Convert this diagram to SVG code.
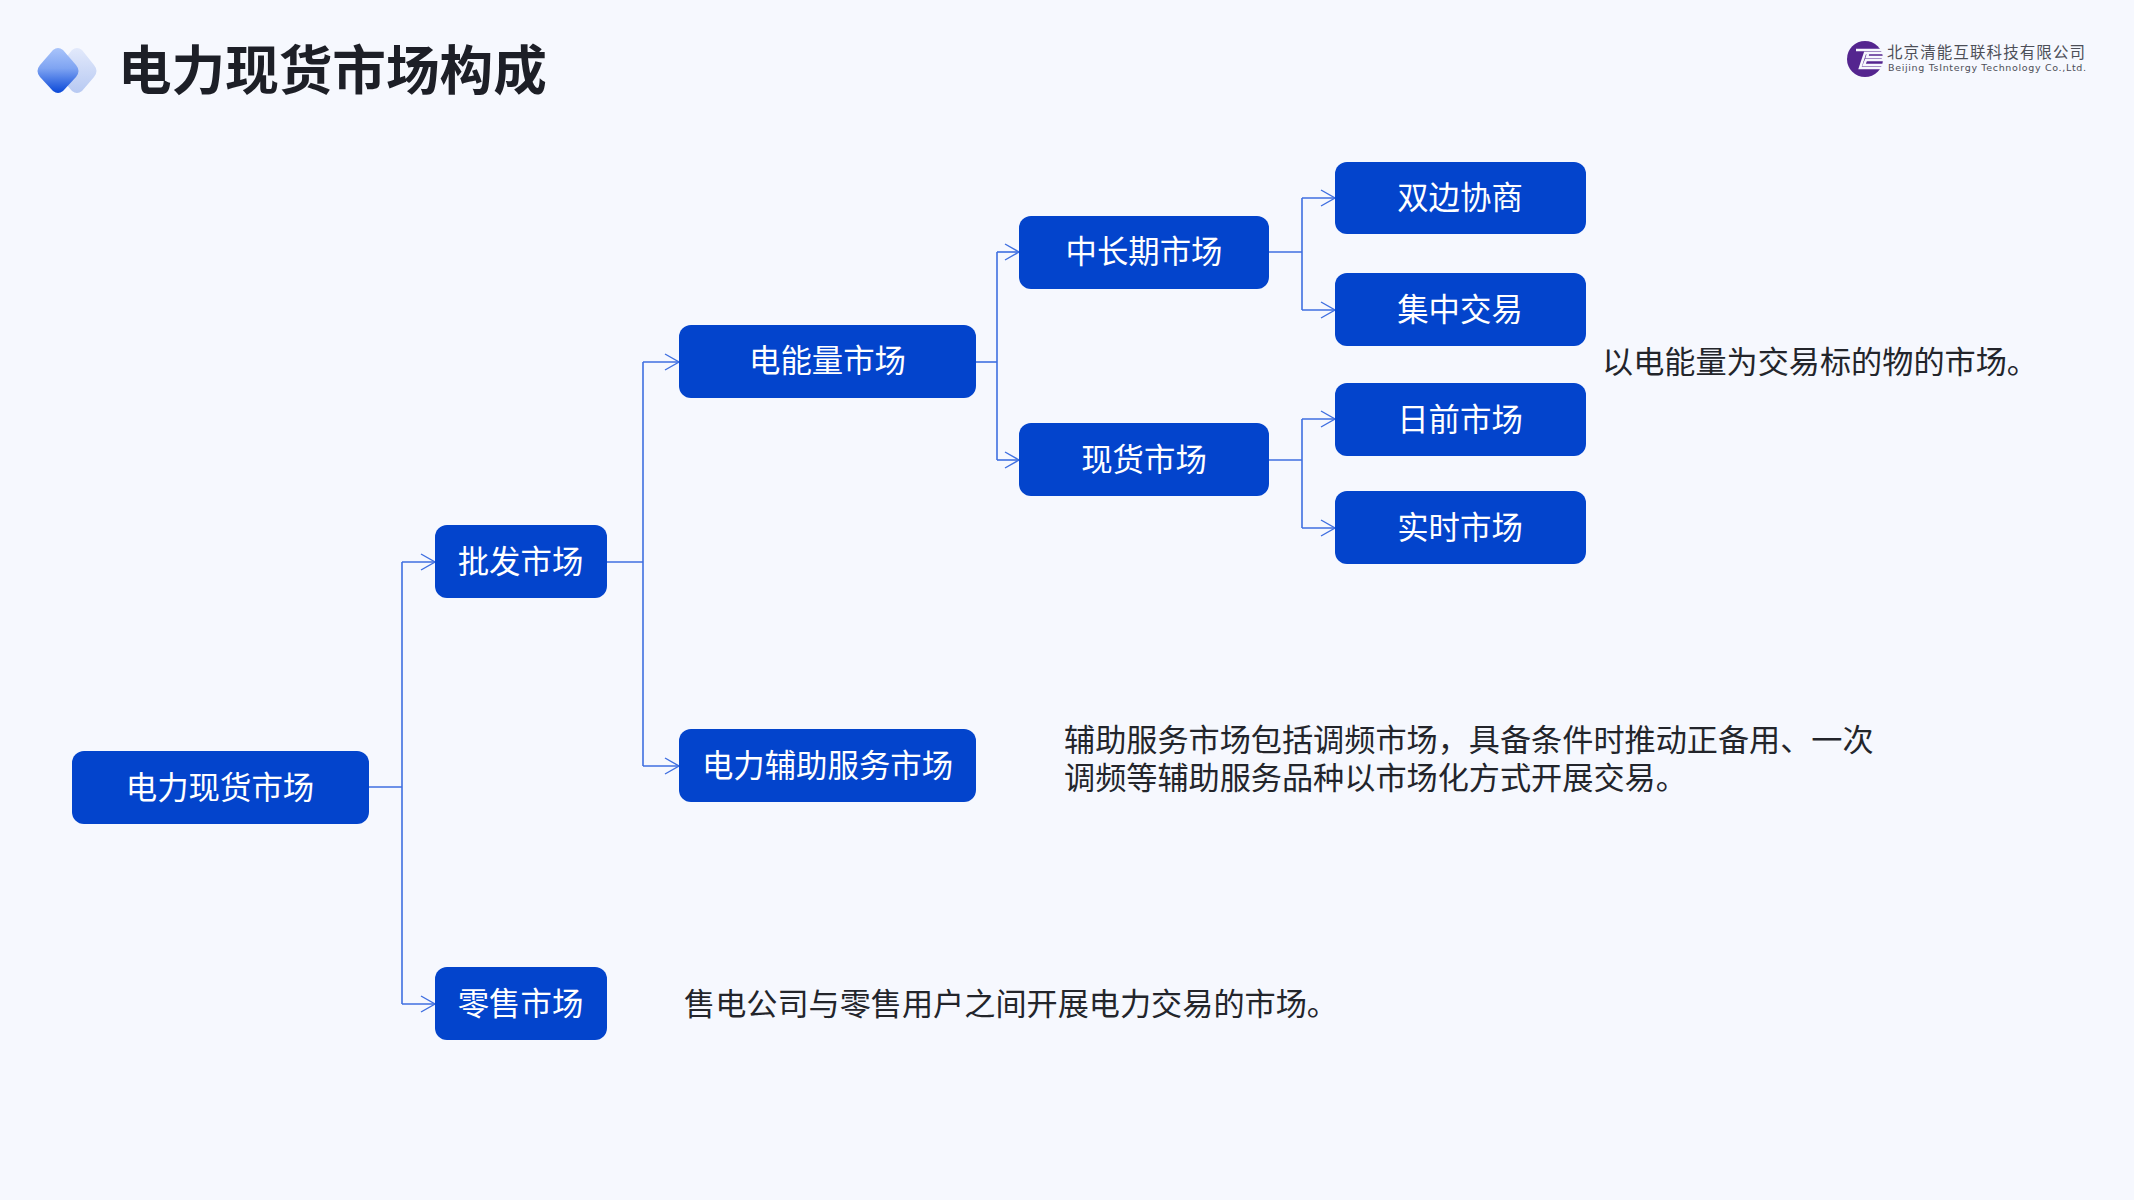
<svg xmlns="http://www.w3.org/2000/svg" width="2134" height="1200" viewBox="0 0 2134 1200">
<style>
text{font-family:"Noto Sans CJK SC","Noto Sans",sans-serif}
.n{fill:#0344cc}
.nt{fill:#fff;font-size:31.400px;text-anchor:middle;dominant-baseline:central}
.d{fill:#23252b;font-size:31.150px}
.c{fill:none;stroke:#3f6fe0;stroke-width:1.6}
.a{fill:none;stroke:#3f6fe0;stroke-width:1.4}
</style>
<defs>
<linearGradient id="g1" x1="0" y1="0" x2="0" y2="1"><stop offset="0" stop-color="#a9c4fa"/><stop offset="0.45" stop-color="#7fa4f2"/><stop offset="1" stop-color="#0a48d8"/></linearGradient>
<linearGradient id="g2" x1="0" y1="0" x2="0" y2="1"><stop offset="0" stop-color="#e2e9fb"/><stop offset="1" stop-color="#b7c9f2"/></linearGradient>
<marker id="ah" markerUnits="userSpaceOnUse" viewBox="0 0 16 18" refX="15" refY="9" markerWidth="16" markerHeight="18" orient="auto"><path class="a" d="M1 1L15 9L1 17"/></marker>
</defs>
<rect width="2134" height="1200" fill="#f6f8fe"/>
<g id="title">
<path d="M72 50Q77 46 82 50L94 65Q99 71 94 77L82 91Q77 95 72 91L60 77Q55 71 60 65Z" fill="url(#g2)"/>
<path d="M53 50Q58 46 63 50L76 65Q81 71 76 77L63 91Q58 95 53 91L40 77Q35 71 40 65Z" fill="url(#g1)"/>
<text x="118" y="90" font-size="53.600" font-weight="700" fill="#1d1f27">电力现货市场构成</text>
</g>
<g id="logo">
<circle cx="1865" cy="59" r="18" fill="#54258f"/>
<path d="M1856 50H1883V53H1865L1860 68H1883V65H1864L1866 60H1883V57H1867L1868 54" fill="none" stroke="#f6f8fe" stroke-width="2.500"/>
<text x="1887" y="58" font-size="15.500" fill="#4d4f58" textLength="198" lengthAdjust="spacing">北京清能互联科技有限公司</text>
<text x="1888" y="71" font-size="9.500" fill="#4d4f58" textLength="198" lengthAdjust="spacing" style="font-family:'DejaVu Sans',sans-serif">Beijing TsIntergy Technology Co.,Ltd.</text>
</g>
<g id="connectors">
<path class="c" d="M369 787H402"/>
<path class="c" d="M402 562V1004"/>
<path class="c" marker-end="url(#ah)" d="M402 562H435"/>
<path class="c" marker-end="url(#ah)" d="M402 1004H435"/>
<path class="c" d="M607 562H643"/>
<path class="c" d="M643 362V766"/>
<path class="c" marker-end="url(#ah)" d="M643 362H679"/>
<path class="c" marker-end="url(#ah)" d="M643 766H679"/>
<path class="c" d="M976 362H997"/>
<path class="c" d="M997 252V460"/>
<path class="c" marker-end="url(#ah)" d="M997 252H1019"/>
<path class="c" marker-end="url(#ah)" d="M997 460H1019"/>
<path class="c" d="M1269 252H1302"/>
<path class="c" d="M1302 198V310"/>
<path class="c" marker-end="url(#ah)" d="M1302 198H1335"/>
<path class="c" marker-end="url(#ah)" d="M1302 310H1335"/>
<path class="c" d="M1269 460H1302"/>
<path class="c" d="M1302 419V528"/>
<path class="c" marker-end="url(#ah)" d="M1302 419H1335"/>
<path class="c" marker-end="url(#ah)" d="M1302 528H1335"/>
</g>
<g id="n1"><rect class="n" x="72" y="751" width="297" height="73" rx="12"/><text class="nt" x="220" y="785">电力现货市场</text></g>
<g id="n2"><rect class="n" x="435" y="525" width="172" height="73" rx="12"/><text class="nt" x="520.500" y="559">批发市场</text></g>
<g id="n3"><rect class="n" x="435" y="967" width="172" height="73" rx="12"/><text class="nt" x="520.500" y="1001">零售市场</text></g>
<g id="n4"><rect class="n" x="679" y="325" width="297" height="73" rx="12"/><text class="nt" x="827.500" y="358">电能量市场</text></g>
<g id="n5"><rect class="n" x="679" y="729" width="297" height="73" rx="12"/><text class="nt" x="827.500" y="763">电力辅助服务市场</text></g>
<g id="n6"><rect class="n" x="1019" y="216" width="250" height="73" rx="12"/><text class="nt" x="1144" y="249">中长期市场</text></g>
<g id="n7"><rect class="n" x="1019" y="423" width="250" height="73" rx="12"/><text class="nt" x="1144" y="457">现货市场</text></g>
<g id="n8"><rect class="n" x="1335" y="162" width="251" height="72" rx="12"/><text class="nt" x="1460" y="195">双边协商</text></g>
<g id="n9"><rect class="n" x="1335" y="273" width="251" height="73" rx="12"/><text class="nt" x="1460" y="307">集中交易</text></g>
<g id="n10"><rect class="n" x="1335" y="383" width="251" height="73" rx="12"/><text class="nt" x="1460" y="417">日前市场</text></g>
<g id="n11"><rect class="n" x="1335" y="491" width="251" height="73" rx="12"/><text class="nt" x="1460" y="525">实时市场</text></g>
<g id="notes">
<text class="d" x="1602" y="373">以电能量为交易标的物的市场。</text>
<text class="d"><tspan x="1064" y="751">辅助服务市场包括调频市场，具备条件时推动正备用、一次</tspan><tspan x="1064" y="789">调频等辅助服务品种以市场化方式开展交易。</tspan></text>
<text class="d" x="684" y="1015">售电公司与零售用户之间开展电力交易的市场。</text>
</g>
</svg>
